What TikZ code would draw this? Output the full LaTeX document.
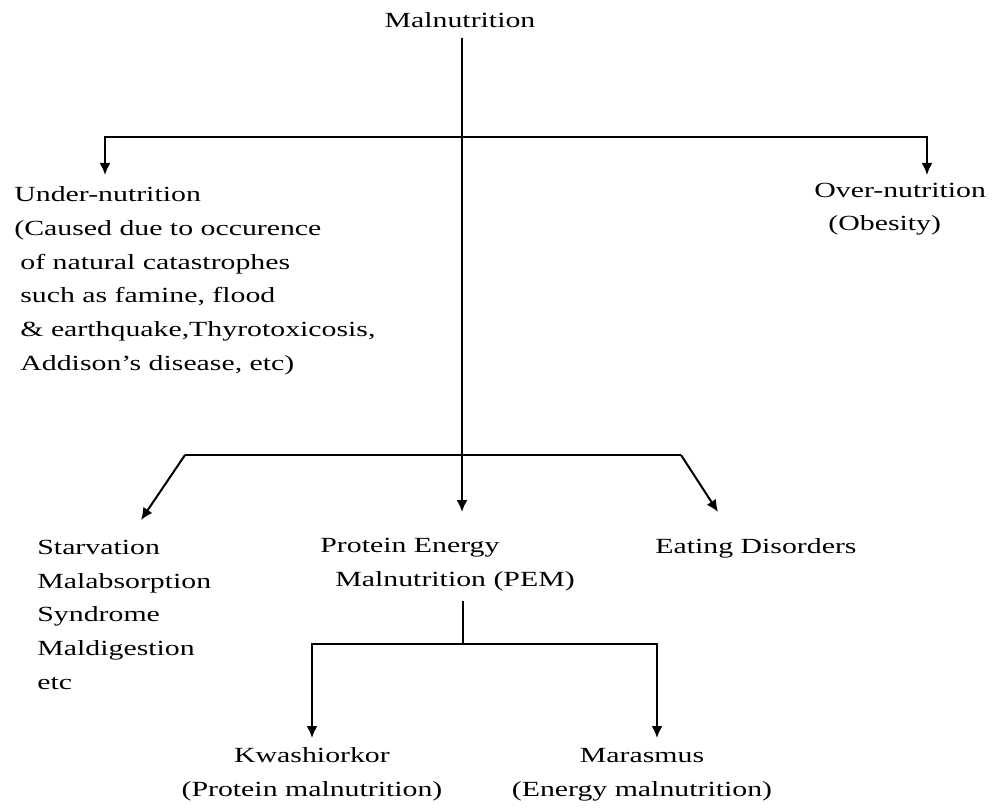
\documentclass[tikz,border=0pt]{standalone}
\usepackage{fontspec}
\setmainfont{Liberation Serif}[FakeStretch=1.38]
\usepackage{tikz}
\usetikzlibrary{arrows.meta}
\tikzset{>={Latex[length=6pt,width=5.5pt]}}

\begin{document}
\begin{tikzpicture}[x=0.5pt,y=-0.5pt]
      \tikzstyle{txt}=[inner sep=0pt,align=left,font=\fontsize{10.8pt}{16.8pt}\selectfont]
      \tikzstyle{conn}=[line width=1pt]
      \useasboundingbox (0,0) rectangle (994,807);
      %%% Malnutrition (base = last line)
      \node (mal) at (460,28) [txt,anchor=base,inner ysep=4.5pt] {Malnutrition};
      \coordinate (j1) at (462,137);
      \coordinate (j2) at (462,455);
      \coordinate (tpem) at (462,512);
      %%%% first level
      \node (under) at (14,370) [txt,anchor=base west] {Under-nutrition\\(Caused due to occurence\\\hspace{3pt}of natural catastrophes\\\hspace{3pt}such as famine, flood\\\hspace{3pt}\& earthquake,Thyrotoxicosis,\\\hspace{3pt}Addison’s disease, etc)};
      \node (over) at (814,231) [txt,anchor=base west] {Over-nutrition\\\hspace{7pt}(Obesity)};
      \coordinate (tunder) at (105,175);
      \coordinate (tover) at (927,175);
      \draw[conn] (mal.south -| tpem) -- (j1);
      \draw[conn,->] (j1) -| (tunder);
      \draw[conn,->] (j1) -| (tover);
      %%%% second level
      \node (starv) at (37,689) [txt,anchor=base west] {Starvation\\Malabsorption\\Syndrome\\Maldigestion\\etc};
      \node (pem) at (320,586) [txt,anchor=base west] {Protein Energy\\\hspace{7.5pt}Malnutrition (PEM)};
      \node (eat) at (655,553) [txt,anchor=base west] {Eating Disorders};
      \coordinate (l2) at (185,455);
      \coordinate (r2) at (681,455);
      \coordinate (tstarv) at (141,520);
      \coordinate (teat) at (718,512);
      \draw[conn,->] (j1) -- (tpem);
      \draw[conn] (l2) -- (r2);
      \draw[conn,->] (l2) -- (tstarv);
      \draw[conn,->] (r2) -- (teat);
      %%%% PEM
      \node (kwash) at (312,796) [txt,anchor=base,align=center] {Kwashiorkor\\(Protein malnutrition)};
      \node (maras) at (642,796) [txt,anchor=base,align=center] {Marasmus\\(Energy malnutrition)};
      \coordinate (j3) at (463,644);
      \coordinate (tkwash) at (312,738);
      \coordinate (tmaras) at (657,738);
      \draw[conn] (pem.south -| j3) ++(0,10) -- (j3);
      \draw[conn,->] (j3) -| (tkwash);
      \draw[conn,->] (j3) -| (tmaras);
\end{tikzpicture}
\end{document}
